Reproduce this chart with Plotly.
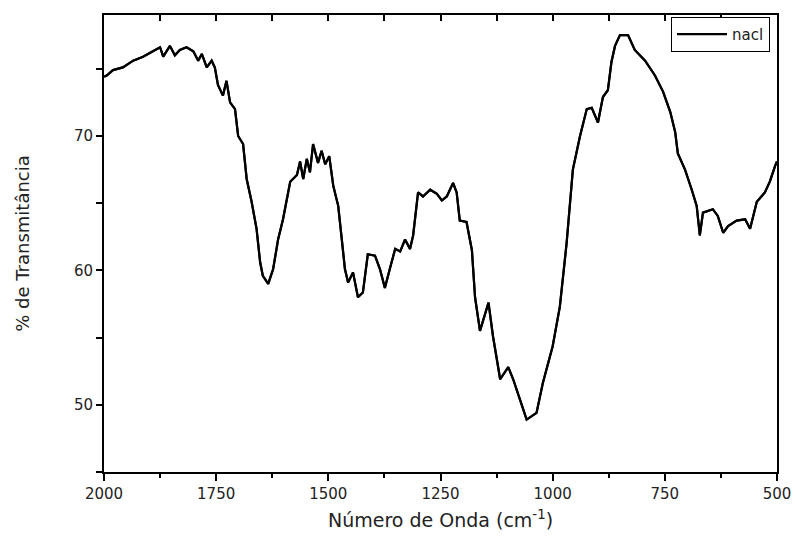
import plotly.graph_objects as go

wavenumber = [2000, 1994, 1980, 1958, 1935, 1913, 1891, 1875, 1868, 1853, 1842, 1831, 1816, 1801,
              1790, 1782, 1771, 1760, 1753, 1746, 1735, 1727, 1719, 1708, 1701, 1690, 1682, 1671,
              1660, 1652, 1646, 1634, 1623, 1612, 1601, 1585, 1570, 1563, 1556, 1548, 1541, 1534,
              1523, 1515, 1507, 1498, 1489, 1478, 1470, 1463, 1456, 1445, 1434, 1423, 1412, 1396,
              1385, 1374, 1363, 1351, 1340, 1329, 1318, 1311, 1300, 1289, 1273, 1258, 1247, 1236,
              1222, 1214, 1207, 1192, 1180, 1173, 1162, 1143, 1133, 1117, 1099, 1088, 1073, 1058,
              1036, 1022, 1000, 984, 969, 955, 939, 924, 913, 899, 888, 877, 869, 861, 850, 832,
              817, 794, 772, 754, 738, 727, 721, 705, 690, 679, 672, 665, 643, 632, 620, 609, 590,
              571, 560, 545, 527, 516, 504, 500]
transmittance = [74.4, 74.5, 74.9, 75.1, 75.6, 75.9, 76.3, 76.6, 75.9, 76.7, 76.0, 76.4, 76.6, 76.3,
                 75.6, 76.1, 75.1, 75.6, 75.1, 73.8, 73.0, 74.1, 72.5, 72.0, 70.0, 69.4, 66.8, 65.1,
                 63.1, 60.6, 59.6, 59.0, 60.1, 62.3, 63.8, 66.6, 67.1, 68.1, 66.8, 68.3, 67.3, 69.4,
                 68.0, 68.9, 67.9, 68.5, 66.3, 64.8, 62.3, 60.1, 59.1, 59.85, 58.0, 58.35, 61.2, 61.1,
                 60.1, 58.7, 60.1, 61.6, 61.4, 62.3, 61.6, 62.6, 65.8, 65.5, 66.0, 65.7, 65.2, 65.5,
                 66.5, 65.8, 63.7, 63.6, 61.5, 58.0, 55.5, 57.6, 55.1, 51.9, 52.8, 51.9, 50.4, 48.9,
                 49.4, 51.6, 54.35, 57.3, 62.0, 67.5, 70.0, 72.0, 72.1, 71.0, 72.9, 73.4, 75.5, 76.7,
                 77.5, 77.5, 76.4, 75.6, 74.5, 73.3, 71.8, 70.3, 68.7, 67.5, 66.0, 64.8, 62.6, 64.3,
                 64.55, 64.05, 62.8, 63.3, 63.7, 63.8, 63.1, 65.1, 65.8, 66.6, 67.8, 68.1]

x_ticks = [2000, 1750, 1500, 1250, 1000, 750, 500]
x_minor_ticks = [1875, 1625, 1375, 1125, 875, 625]
y_ticks = [50, 60, 70]
y_minor_ticks = [45, 55, 65, 75]
series_name = "nacl"
x_range = [2000, 500]
y_range = [45, 79]

all_x_ticks = sorted(x_ticks + x_minor_ticks, reverse=True)
all_y_ticks = sorted(y_ticks + y_minor_ticks)
y_labels = [str(v) if v in y_ticks else "" for v in all_y_ticks]

fig = go.Figure()
fig.add_trace(go.Scatter(x=wavenumber, y=transmittance, mode="lines", name=series_name,
                         line=dict(color="black", width=2.2)))
# same data on the top axis so the top edge carries inward ticks
fig.add_trace(go.Scatter(x=wavenumber, y=transmittance, xaxis="x2", yaxis="y",
                         mode="lines", line=dict(width=2.2, color="black"),
                         showlegend=False, hoverinfo="skip"))

font = "DejaVu Sans, Liberation Sans, Arial, sans-serif"
fig.update_layout(
    width=795, height=546,
    margin=dict(l=104, r=18, t=15, b=74, autoexpand=False),
    paper_bgcolor="white", plot_bgcolor="white",
    font=dict(family=font, color="#222222"),
    showlegend=True,
    legend=dict(x=0.9896, xanchor="right", y=0.996, yanchor="top",
                bordercolor="black", borderwidth=1, bgcolor="white",
                font=dict(size=15, family=font, color="#222222"),
                tracegroupgap=0, itemwidth=50),
    xaxis=dict(range=x_range, tickvals=x_ticks, ticks="outside", ticklen=7, tickwidth=2,
               tickcolor="black", automargin=False,
               showline=True, linecolor="black", linewidth=2, showgrid=False, zeroline=False,
               tickfont=dict(size=15), mirror=True,
               minor=dict(tickvals=x_minor_ticks, ticks="outside", ticklen=4, tickwidth=2,
                          tickcolor="black"),
               title=dict(text="Número de Onda (cm<sup>-1</sup>)", font=dict(size=19), standoff=12)),
    xaxis2=dict(range=x_range, overlaying="x", side="top", anchor="y",
                tickmode="array", tickvals=all_x_ticks, ticktext=[""] * len(all_x_ticks),
                ticks="inside", ticklen=6, tickwidth=2, tickcolor="black",
                automargin=False, showline=False, showgrid=False, zeroline=False),
    yaxis=dict(range=y_range, tickmode="array", tickvals=all_y_ticks, ticktext=y_labels,
               ticks="outside", ticklen=6, tickwidth=2,
               tickcolor="black", automargin=False,
               showline=True, linecolor="black", linewidth=2, showgrid=False, zeroline=False,
               mirror=True, tickfont=dict(size=15),
               title=dict(text="% de Transmitância", font=dict(size=18), standoff=40)),
)

fig.write_html("out.html")
